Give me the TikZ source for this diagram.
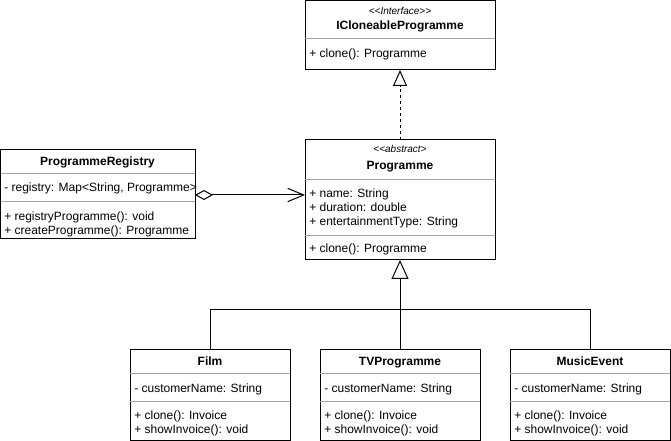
\documentclass[tikz,border=0pt]{standalone}
\usepackage{fontspec}
\setmainfont{Liberation Sans}
\usetikzlibrary{arrows.meta,fit}
\begin{document}
\begin{tikzpicture}[x=0.75pt,y=-0.75pt,
  cls/.style={draw, line width=0.75pt, inner sep=0pt, outer sep=0pt},
  div/.style={draw=black!35, line width=0.75pt},
  txt/.style={anchor=west, inner sep=0pt, text height=6.5pt, text depth=1.9pt, font=\fontsize{9}{10}\selectfont},
  ttl/.style={inner sep=0pt, text height=6.5pt, text depth=1.9pt, font=\bfseries\fontsize{9}{10}\selectfont},
  stereo/.style={inner sep=0pt, text height=5.4pt, text depth=1.6pt, font=\itshape\fontsize{7.5}{9}\selectfont},
  conn/.style={line width=0.75pt},
  genarrow/.style={-{Triangle[open,length=14.25pt,width=12.75pt]}},
  realarrow/.style={-{Triangle[open,length=12pt,width=10.5pt]}},
  real/.style={dash pattern=on 2.25pt off 2.25pt}]
\useasboundingbox (0,0) rectangle (671,441);

% ICloneableProgramme
\node[cls, fit={(305,0.5) (495,70)}] (icl) {};
\node[stereo] (iclst) at (400,12) {<\kern0pt<Interface>\kern0pt>};
\node[ttl] (iclt) at (400,26) {ICloneableProgramme};
\draw[div] (icl.west |- 0,39) -- (icl.east |- 0,39);
\node[txt] (iclm) at (309,54) {+ clone(): Programme};

% Programme
\node[cls, fit={(305,140) (495,260)}] (prog) {};
\node[stereo] (progst) at (400,150) {<\kern0pt<abstract>};
\node[ttl] (progt) at (400,166) {Programme};
\draw[div] (prog.west |- 0,180) -- (prog.east |- 0,180);
\node[txt] (pa1) at (309,194) {+ name: String};
\node[txt] (pa2) at (309,208) {+ duration: double};
\node[txt] (pa3) at (309,222) {+ entertainmentType: String};
\draw[div] (prog.west |- 0,236) -- (prog.east |- 0,236);
\node[txt] (pm1) at (309,249) {+ clone(): Programme};

% ProgrammeRegistry
\node[cls, fit={(0.5,150) (195,239)}] (reg) {};
\node[ttl] (regt) at (97.5,162) {ProgrammeRegistry};
\draw[div] (reg.west |- 0,174) -- (reg.east |- 0,174);
\node[txt] (ra1) at (4,188) {- registry: Map<String, Programme>};
\draw[div] (reg.west |- 0,202) -- (reg.east |- 0,202);
\node[txt] (rm1) at (4,217) {+ registryProgramme(): void};
\node[txt] (rm2) at (4,231) {+ createProgramme(): Programme};

% Subclasses
\foreach \nm/\lab/\xl in {film/Film/130, tv/TVProgramme/320, music/MusicEvent/510}{
  \pgfmathsetmacro{\xr}{\xl+160}
  \pgfmathsetmacro{\xc}{\xl+80}
  \pgfmathsetmacro{\xt}{\xl+4}
  \node[cls, fit={(\xl,350) (\xr,440)}] (\nm) {};
  \node[ttl] (\nm t) at (\xc,362) {\lab};
  \draw[div] (\nm.west |- 0,374) -- (\nm.east |- 0,374);
  \node[txt] (\nm a) at (\xt,389) {- customerName: String};
  \draw[div] (\nm.west |- 0,402) -- (\nm.east |- 0,402);
  \node[txt] (\nm m1) at (\xt,416) {+ clone(): Invoice};
  \node[txt] (\nm m2) at (\xt,430) {+ showInvoice(): void};
}

% Realization
\draw[conn, real, realarrow] (prog.north) -- (icl.south);

% Generalization
\coordinate (jn) at (400,310);
\draw[conn] (film.north) |- (jn);
\draw[conn] (music.north) |- (jn);
\draw[conn, genarrow] (tv.north) -- (prog.south);

% Aggregation
\draw[conn, {Diamond[open,length=13.5pt,width=7.5pt]}-{Straight Barb[length=12pt,width=10pt]}]
  (reg.east |- 0,195) -- (prog.west |- 0,195);
\end{tikzpicture}
\end{document}
